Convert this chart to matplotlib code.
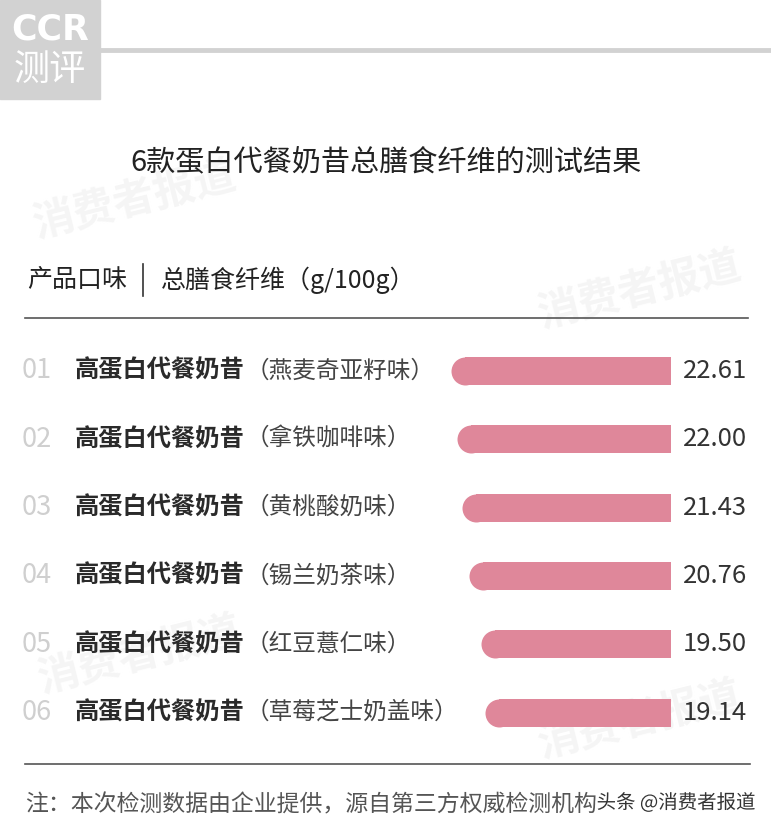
import matplotlib
matplotlib.use('Agg')
import matplotlib.pyplot as plt
import matplotlib.patheffects as pe
from matplotlib.patches import Rectangle
from matplotlib import transforms

plt.rcParams['font.family'] = ['Noto Sans CJK SC', 'DejaVu Sans']

# data
ranks = ['01', '02', '03', '04', '05', '06']
product = '高蛋白代餐奶昔'
flavors = ['（燕麦奇亚籽味）', '（拿铁咖啡味）', '（黄桃酸奶味）',
           '（锡兰奶茶味）', '（红豆薏仁味）', '（草莓芝士奶盖味）']
fiber = [22.61, 22.00, 21.43, 20.76, 19.50, 19.14]

title = '6款蛋白代餐奶昔总膳食纤维的测试结果'
header_left = '产品口味'
header_right = '总膳食纤维（g/100g）'
note = '注：本次检测数据由企业提供，源自第三方权威检测机构'

W, H = 771, 832
bar_color = '#df879a'

# layout in pixels
px_per_unit = 9.73
bar_right = 671
row0 = 371
row_step = 68.3
bar_h_px = 28

fig = plt.figure(figsize=(W / 100, H / 100), dpi=100)
fig.patch.set_facecolor('white')

# background axes in pixel coordinates for decoration
bg = fig.add_axes([0, 0, 1, 1])
bg.set_xlim(0, W)
bg.set_ylim(H, 0)
bg.axis('off')

# bar axes: value scale grows leftwards from bar_right
ax = fig.add_axes([0, 0, 1, 1], facecolor='none')
ax.set_xlim(bar_right / px_per_unit, (bar_right - W) / px_per_unit)
ax.set_ylim((H - row0) / row_step, -row0 / row_step)
ax.axis('off')

# faint watermarks
for x, y in [(135, 200), (640, 290), (140, 655), (640, 720)]:
    bg.text(x, y, '消费者报道', fontsize=30, fontweight='bold', color='#f5f5f5',
            rotation=14, ha='center', va='center', zorder=0)

# logo + top rule
bg.add_patch(Rectangle((0, 0), 100, 99, color='#d2d2d2', zorder=1))
bg.text(50, 30, 'CCR', fontsize=25, fontweight='heavy', color='white',
        ha='center', va='center', family='DejaVu Sans', zorder=2)
bg.text(50, 70, '测评', fontsize=26, color='white', ha='center', va='center', zorder=2)
bg.plot([100, W], [50, 50], color='#d2d2d2', lw=3.5, solid_capstyle='butt', zorder=1)

# title and header
bg.text(W / 2, 163, title, fontsize=21, fontweight='medium', color='#222222',
        ha='center', va='center')
bg.text(27, 280, header_left, fontsize=18, color='#222222', ha='left', va='center')
bg.plot([143, 143], [264, 296], color='#333333', lw=1.2)
bg.text(161, 280, header_right, fontsize=18, color='#222222', ha='left', va='center')
bg.plot([25, 748], [318, 318], color='#555555', lw=1.2)

# bars with rounded left end
y_pos = list(range(len(fiber)))
r_units = (bar_h_px / 2) / px_per_unit
ax.barh(y_pos, [v - r_units for v in fiber], left=0, height=bar_h_px / row_step,
        color=bar_color, zorder=3)
ax.scatter([v - r_units for v in fiber], y_pos, s=(bar_h_px * 0.72) ** 2,
           color=bar_color, linewidths=0, zorder=3)

# row labels
tr = transforms.blended_transform_factory(bg.transData, ax.transData)
for i, v in enumerate(fiber):
    ax.text(22, i, ranks[i], transform=tr, fontsize=19.5, fontweight='light',
            color='#cfcfcf', ha='left', va='center')
    ax.text(75, i, product, transform=tr, fontsize=17.5, fontweight=600,
            color='#2a2a2a', ha='left', va='center')
    ax.text(246, i, flavors[i], transform=tr, fontsize=17, fontweight='light',
            color='#444444', ha='left', va='center')
    ax.text(683, i, f'{v:.2f}', transform=tr, fontsize=18.5, color='#333333',
            ha='left', va='center')

# footer
bg.plot([25, 750], [764, 764], color='#555555', lw=1.2)
bg.text(25, 805, note, fontsize=16.5, fontweight='light', color='#555555',
        ha='left', va='center')
bg.text(756, 803, '头条 @消费者报道', fontsize=14, color='#333333',
        ha='right', va='center',
        path_effects=[pe.withStroke(linewidth=3, foreground='white')])

fig.savefig('out.png', dpi=100, facecolor='white')
